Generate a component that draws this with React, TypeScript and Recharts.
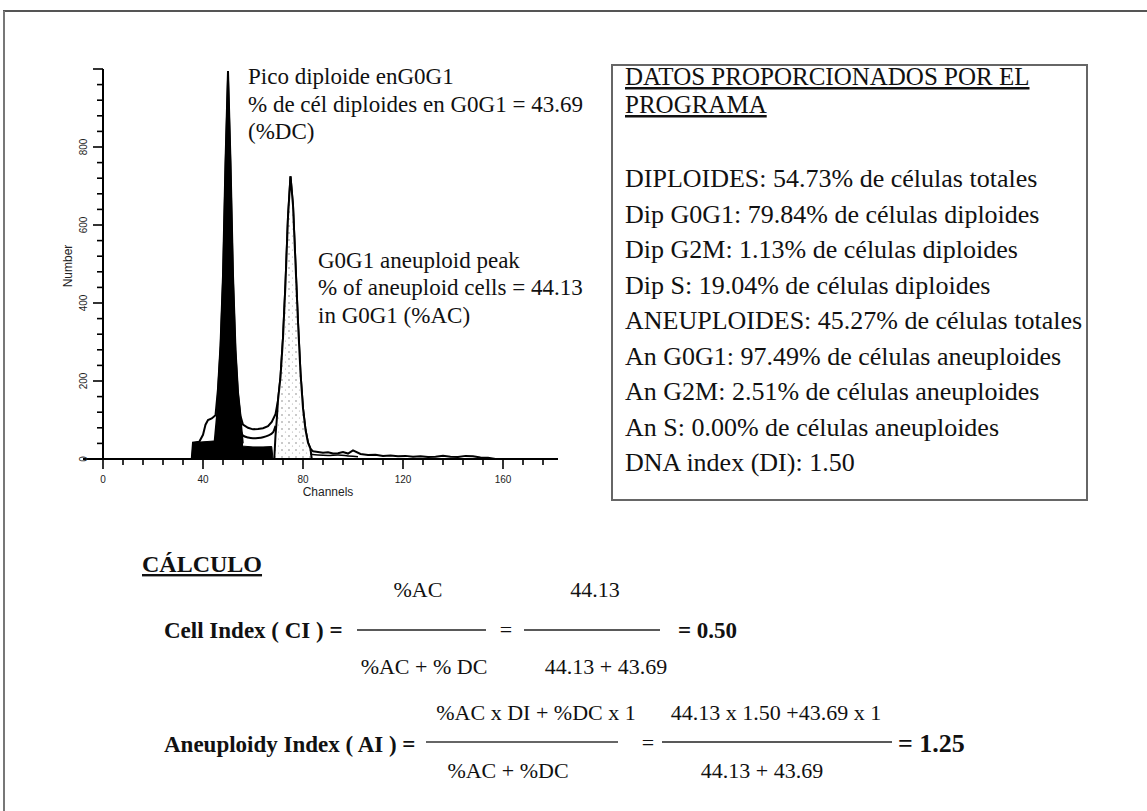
import { ComposedChart, Area, Line, Scatter, XAxis, YAxis, ReferenceLine } from 'recharts';

const SERIF = "'Liberation Serif', 'Times New Roman', serif";
const SANS = "'Liberation Sans', Arial, sans-serif";

// total histogram outline (channel, number of events)
const totalCh = [35.5, 36, 38.5, 40, 41, 42, 43.5, 45, 46, 47, 48, 49, 50, 51, 52, 53, 54, 55, 56, 58, 60, 62, 64, 66, 67.5, 69, 70, 71, 72, 73, 74, 75, 76, 77, 78, 79, 80, 81, 82, 83, 84, 86, 88, 90, 92, 94, 96, 98, 100, 103, 106, 109, 112, 115, 118, 121, 124, 127, 130, 133, 136, 139, 142, 145, 148, 151, 154, 157];
const totalN = [0, 42, 44, 62, 88, 100, 104, 112, 180, 290, 470, 760, 995, 760, 470, 280, 170, 110, 88, 80, 76, 77, 79, 84, 95, 115, 150, 210, 310, 450, 620, 725, 650, 500, 350, 220, 130, 75, 42, 26, 20, 18, 16, 17, 14, 15, 18, 14, 22, 13, 10, 11, 8, 9, 7, 8, 6, 7, 5, 6, 8, 6, 5, 8, 7, 4, 3, 0];

// fitted model line between the two G0G1 peaks
const fitCh = [55, 56, 58, 60, 62, 64, 66, 68, 69];
const fitN = [75, 60, 55, 53, 54, 56, 60, 68, 85];

// diploid S phase + debris (solid black block)
const sPhaseCh = [35.5, 36, 40, 44, 50, 55, 56, 60, 64, 67.5, 68];
const sPhaseN = [0, 42, 44, 46, 46, 40, 33, 31, 31, 32, 0];

// diploid G0G1 peak
const dipCh = [44.5, 45.5, 46, 47, 48, 49, 50, 51, 52, 53, 54, 55, 56];
const dipN = [40, 110, 180, 290, 470, 760, 995, 760, 470, 280, 170, 110, 40];

// aneuploid G0G1 peak
const aneuCh = [68.5, 69, 69.5, 70, 71, 72, 73, 74, 75, 76, 77, 78, 79, 80, 81, 82, 83, 83.5];
const aneuN = [0, 60, 100, 150, 210, 310, 450, 620, 725, 650, 500, 350, 220, 130, 75, 42, 26, 0];

// tail fit line
const tailCh = [83, 86, 90, 94, 98, 102];
const tailN = [12, 10, 9, 10, 8, 6];

// gate markers under the axis
const markerCh = [41.5, 50, 75];

const xTicks = [0, 8, 16, 24, 32, 40, 48, 56, 64, 72, 80, 88, 96, 104, 112, 120, 128, 136, 144, 152, 160, 168, 176];
const yTicks = [0, 40, 80, 120, 160, 200, 240, 280, 320, 360, 400, 440, 480, 520, 560, 600, 640, 680, 720, 760, 800, 840, 880, 920, 960, 1000];

const rows = (ch: number[], n: number[]) => ch.map((c, i) => ({ ch: c, n: n[i] }));

const boxLines = [
  'DIPLOIDES: 54.73% de células totales',
  'Dip G0G1: 79.84% de células diploides',
  'Dip G2M: 1.13% de células diploides',
  'Dip S: 19.04% de células diploides',
  'ANEUPLOIDES: 45.27% de células totales',
  'An G0G1: 97.49% de células aneuploides',
  'An G2M: 2.51% de células aneuploides',
  'An S: 0.00% de células aneuploides',
  'DNA index (DI): 1.50',
];

function XTick(props: any) {
  const { x, y, payload } = props;
  const major = payload.value % 40 === 0;
  return (
    <g>
      <line x1={x} x2={x} y1={y} y2={y + (major ? 10 : 6)} stroke="#000" strokeWidth={1.6} />
      {major && (
        <text x={x} y={y + 24} textAnchor="middle" fontSize={10} fontFamily={SANS} fill="#222">
          {payload.value}
        </text>
      )}
    </g>
  );
}

function YTick(props: any) {
  const { x, y, payload } = props;
  const major = payload.value % 200 === 0;
  const lx = x - 16;
  return (
    <g>
      <line x1={x} x2={x - (major ? 10 : 6)} y1={y} y2={y} stroke="#000" strokeWidth={1.6} />
      {major && payload.value < 1000 && (
        <text x={lx} y={y} textAnchor="middle" fontSize={10} fontFamily={SANS} fill="#222"
          transform={`rotate(-90 ${lx} ${y})`}>
          {payload.value}
        </text>
      )}
    </g>
  );
}

function Marker(props: any) {
  const { cx, cy } = props;
  return <polygon points={`${cx},${cy + 2} ${cx - 6.5},${cy + 14} ${cx + 6.5},${cy + 14}`} fill="#000" />;
}

function Histogram() {
  return (
    <ComposedChart width={600} height={520} margin={{ top: 69, right: 42, bottom: 31, left: 73 }}>
      <XAxis
        type="number"
        dataKey="ch"
        domain={[0, 182]}
        ticks={xTicks}
        interval={0}
        tickSize={0}
        tickMargin={0}
        tick={<XTick />}
        axisLine={{ stroke: '#000', strokeWidth: 2 }}
        height={30}
        allowDataOverflow
      />
      <YAxis
        type="number"
        domain={[0, 1000]}
        ticks={yTicks}
        interval={0}
        tickSize={0}
        tickMargin={0}
        tick={<YTick />}
        axisLine={{ stroke: '#000', strokeWidth: 2 }}
        width={30}
        allowDataOverflow
      />
      <ReferenceLine segment={[{ x: -8, y: 0 }, { x: 0, y: 0 }]} ifOverflow="visible" stroke="#000" strokeWidth={2} />
      <Area data={rows(totalCh, totalN)} dataKey="n" type="linear" stroke="#000" strokeWidth={2} fill="#fff" fillOpacity={1} dot={false} activeDot={false} isAnimationActive={false} />
      <Line data={rows(fitCh, fitN)} dataKey="n" type="monotone" stroke="#000" strokeWidth={2} dot={false} activeDot={false} isAnimationActive={false} />
      <Line data={rows(tailCh, tailN)} dataKey="n" type="monotone" stroke="#000" strokeWidth={1.5} dot={false} activeDot={false} isAnimationActive={false} />
      <Area data={rows(sPhaseCh, sPhaseN)} dataKey="n" type="linear" stroke="#000" strokeWidth={1} fill="#000" fillOpacity={1} dot={false} activeDot={false} isAnimationActive={false} />
      <Area data={rows(dipCh, dipN)} dataKey="n" type="linear" stroke="#000" strokeWidth={1.5} fill="#000" fillOpacity={1} dot={false} activeDot={false} isAnimationActive={false} />
      <Area data={rows(aneuCh, aneuN)} dataKey="n" type="linear" stroke="#000" strokeWidth={2} fill="url(#stipple)" fillOpacity={1} dot={false} activeDot={false} isAnimationActive={false} />
      <Scatter data={markerCh.map((c) => ({ ch: c, n: 0 }))} dataKey="n" shape={<Marker />} isAnimationActive={false} />
    </ComposedChart>
  );
}

export default function App() {
  const t = { fontFamily: SERIF, fill: '#111' };
  return (
    <div style={{ position: 'absolute', left: 0, top: 0, width: 1147, height: 811, background: '#fff', overflow: 'hidden' }}>
      <svg width={0} height={0} style={{ position: 'absolute' }}>
        <defs>
          <pattern id="stipple" width={7} height={7} patternUnits="userSpaceOnUse">
            <rect width={7} height={7} fill="#fff" />
            <circle cx={2} cy={2} r={0.8} fill="#888" />
            <circle cx={5.5} cy={5} r={0.6} fill="#aaa" />
          </pattern>
        </defs>
      </svg>
      <div style={{ position: 'absolute', left: 0, top: 0 }}>
        <Histogram />
      </div>
      <svg width={1147} height={811} style={{ position: 'absolute', left: 0, top: 0, pointerEvents: 'none' }}>
        {/* page frame */}
        <line x1={3} y1={11} x2={1147} y2={11} stroke="#555" strokeWidth={2} />
        <line x1={4} y1={11} x2={4} y2={811} stroke="#777" strokeWidth={2} />

        {/* axis titles */}
        <text x={72} y={266} textAnchor="middle" fontSize={12} fontFamily={SANS} fill="#222" transform="rotate(-90 72 266)">Number</text>
        <text x={328} y={496} textAnchor="middle" fontSize={12} fontFamily={SANS} fill="#222">Channels</text>

        {/* peak annotations */}
        <text x={248} y={84} fontSize={23} {...t}>Pico diploide enG0G1</text>
        <text x={248} y={112} fontSize={23} {...t}>% de cél diploides en G0G1 = 43.69</text>
        <text x={248} y={139} fontSize={23} {...t}>(%DC)</text>
        <text x={318} y={268} fontSize={23} {...t}>G0G1 aneuploid peak</text>
        <text x={318} y={295} fontSize={23} {...t}>% of aneuploid cells = 44.13</text>
        <text x={318} y={323} fontSize={23} {...t}>in G0G1 (%AC)</text>

        {/* program data box */}
        <rect x={612} y={65} width={475} height={435} fill="none" stroke="#666" strokeWidth={2} />
        <text x={625} y={85} fontSize={25} textDecoration="underline" {...t}>DATOS PROPORCIONADOS POR EL</text>
        <text x={625} y={113} fontSize={25} textDecoration="underline" {...t}>PROGRAMA</text>
        {boxLines.map((s, i) => (
          <text key={s} x={625} y={187 + i * 35.5} fontSize={26} {...t}>{s}</text>
        ))}

        {/* calculation */}
        <text x={142} y={572} fontSize={24} fontWeight="bold" textDecoration="underline" {...t}>CÁLCULO</text>

        <text x={164} y={638} fontSize={23} fontWeight="bold" {...t}>Cell Index ( CI ) =</text>
        <text x={418} y={597} fontSize={22} textAnchor="middle" {...t}>%AC</text>
        <line x1={357} y1={630} x2={486} y2={630} stroke="#222" strokeWidth={1.5} />
        <text x={424} y={674} fontSize={22} textAnchor="middle" {...t}>%AC + % DC</text>
        <text x={506} y={637} fontSize={22} textAnchor="middle" {...t}>=</text>
        <text x={595} y={597} fontSize={22} textAnchor="middle" {...t}>44.13</text>
        <line x1={524} y1={630} x2={660} y2={630} stroke="#222" strokeWidth={1.5} />
        <text x={606} y={674} fontSize={22} textAnchor="middle" {...t}>44.13 + 43.69</text>
        <text x={678} y={638} fontSize={23} fontWeight="bold" {...t}>= 0.50</text>

        <text x={164} y={752} fontSize={23} fontWeight="bold" {...t}>Aneuploidy Index ( AI ) =</text>
        <text x={536} y={720} fontSize={22} textAnchor="middle" {...t}>%AC x DI + %DC x 1</text>
        <line x1={426} y1={742} x2={618} y2={742} stroke="#333" strokeWidth={1.5} />
        <text x={508} y={778} fontSize={22} textAnchor="middle" {...t}>%AC + %DC</text>
        <text x={648} y={750} fontSize={22} textAnchor="middle" {...t}>=</text>
        <text x={776} y={720} fontSize={22} textAnchor="middle" {...t}>44.13 x 1.50 +43.69 x 1</text>
        <line x1={662} y1={742} x2={892} y2={742} stroke="#222" strokeWidth={1.5} />
        <text x={762} y={778} fontSize={22} textAnchor="middle" {...t}>44.13 + 43.69</text>
        <text x={898} y={752} fontSize={26} fontWeight="bold" {...t}>= 1.25</text>
      </svg>
    </div>
  );
}
